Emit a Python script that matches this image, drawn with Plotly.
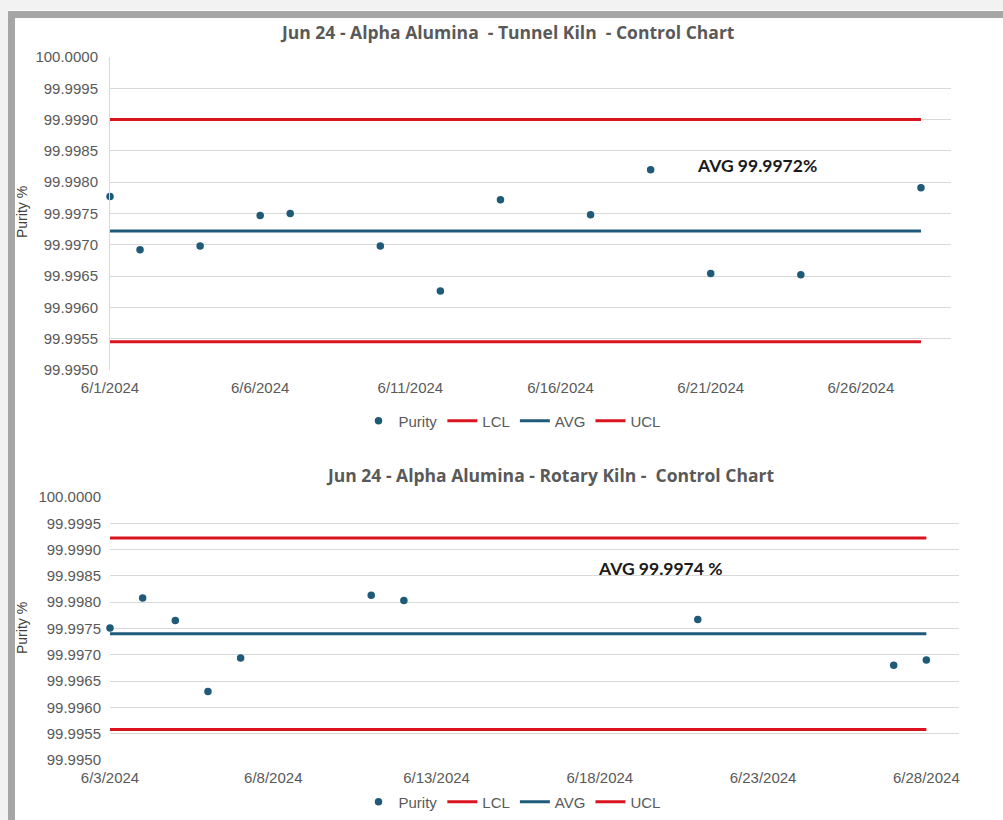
import plotly.graph_objects as go

# ---------------- data ----------------
tunnel_dates = ["2024-06-01", "2024-06-02", "2024-06-04", "2024-06-06", "2024-06-07",
                "2024-06-10", "2024-06-12", "2024-06-14", "2024-06-17", "2024-06-19",
                "2024-06-21", "2024-06-24", "2024-06-28"]
tunnel_purity = [99.99777, 99.99692, 99.99698, 99.99747, 99.99750,
                 99.99698, 99.99626, 99.99772, 99.99748, 99.99820,
                 99.99654, 99.99652, 99.99791]
tunnel_span = ["2024-06-01", "2024-06-28"]
tunnel_lcl = [99.99545, 99.99545]
tunnel_avg = [99.99722, 99.99722]
tunnel_ucl = [99.99900, 99.99900]

rotary_dates = ["2024-06-03", "2024-06-04", "2024-06-05", "2024-06-06", "2024-06-07",
                "2024-06-11", "2024-06-12", "2024-06-21", "2024-06-27", "2024-06-28"]
rotary_purity = [99.99751, 99.99808, 99.99765, 99.99630, 99.99694,
                 99.99813, 99.99803, 99.99767, 99.99680, 99.99690]
rotary_span = ["2024-06-03", "2024-06-28"]
rotary_lcl = [99.99558, 99.99558]
rotary_avg = [99.99740, 99.99740]
rotary_ucl = [99.99922, 99.99922]

tunnel_ticks = ["2024-06-01", "2024-06-06", "2024-06-11", "2024-06-16", "2024-06-21", "2024-06-26"]
tunnel_ticktext = ["6/1/2024", "6/6/2024", "6/11/2024", "6/16/2024", "6/21/2024", "6/26/2024"]
rotary_ticks = ["2024-06-03", "2024-06-08", "2024-06-13", "2024-06-18", "2024-06-23", "2024-06-28"]
rotary_ticktext = ["6/3/2024", "6/8/2024", "6/13/2024", "6/18/2024", "6/23/2024", "6/28/2024"]

series_names = ["Purity", "LCL", "AVG", "UCL"]
titles = ["Jun 24 - Alpha Alumina \u00a0- Tunnel Kiln \u00a0- Control Chart",
          "Jun 24 - Alpha Alumina - Rotary Kiln - \u00a0Control Chart"]
avg_labels = ["AVG 99.9972%", "AVG 99.9974 %"]

# ---------------- style ----------------
W, H = 1003, 820
BLUE = "#1f5b79"
RED = "#d9141e"
GRAY = "#595959"
GRID = "#d9d9d9"
FONT = "Liberation Sans, Arial, sans-serif"

def px_x(x):
    return x / W

def px_y(y):
    return 1 - y / H

fig = go.Figure()

def add_chart(dates, purity, span, lcl, avg, ucl, xa, ya, leg):
    fig.add_trace(go.Scatter(x=dates, y=purity, mode="markers", name=series_names[0],
                             marker=dict(color=BLUE, size=7.5), cliponaxis=False,
                             xaxis=xa, yaxis=ya, legend=leg))
    fig.add_trace(go.Scatter(x=span, y=lcl, mode="lines", name=series_names[1],
                             line=dict(color=RED, width=3), xaxis=xa, yaxis=ya, legend=leg))
    fig.add_trace(go.Scatter(x=span, y=avg, mode="lines", name=series_names[2],
                             line=dict(color=BLUE, width=3), xaxis=xa, yaxis=ya, legend=leg))
    fig.add_trace(go.Scatter(x=span, y=ucl, mode="lines", name=series_names[3],
                             line=dict(color=RED, width=3), xaxis=xa, yaxis=ya, legend=leg))

add_chart(tunnel_dates, tunnel_purity, tunnel_span, tunnel_lcl, tunnel_avg, tunnel_ucl, "x", "y", "legend")
add_chart(rotary_dates, rotary_purity, rotary_span, rotary_lcl, rotary_avg, rotary_ucl, "x2", "y2", "legend2")

tickfont = dict(family=FONT, size=15, color=GRAY)
yaxis_common = dict(range=[99.995, 100.0], dtick=0.0005, tick0=99.995, tickformat=".4f",
                    showgrid=True, gridcolor=GRID, gridwidth=1, zeroline=False,
                    tickfont=tickfont, ticks="", ticklabelstandoff=8, fixedrange=True,
                    automargin=False)
xaxis_common = dict(type="date", showgrid=False, zeroline=False, tickfont=tickfont,
                    ticks="", ticklabelstandoff=7, showline=False, automargin=False)

legend_common = dict(orientation="h", xanchor="center", yanchor="middle",
                     font=dict(family=FONT, size=15, color=GRAY),
                     bgcolor="rgba(0,0,0,0)", itemwidth=30, tracegroupgap=0)

fig.update_layout(
    width=W, height=H, autosize=False,
    margin=dict(l=0, r=0, t=0, b=0, pad=0, autoexpand=False),
    paper_bgcolor="white", plot_bgcolor="white",
    font=dict(family=FONT, color=GRAY),
    xaxis=dict(xaxis_common, domain=[px_x(110), px_x(951)], anchor="y",
               range=["2024-06-01", "2024-06-29"], tickvals=tunnel_ticks, ticktext=tunnel_ticktext),
    yaxis=dict(yaxis_common, domain=[px_y(370), px_y(57)], anchor="x",
               showline=True, linecolor=GRID, linewidth=1),
    xaxis2=dict(xaxis_common, domain=[px_x(110), px_x(959)], anchor="y2",
                range=["2024-06-03", "2024-06-29"], tickvals=rotary_ticks, ticktext=rotary_ticktext),
    yaxis2=dict(yaxis_common, domain=[px_y(760), px_y(497)], anchor="x2", showline=False),
    legend=dict(legend_common, x=px_x(512), y=px_y(421)),
    legend2=dict(legend_common, x=px_x(512), y=px_y(802)),
    showlegend=True,
)

annotations = [
    dict(text="<b>" + titles[0] + "</b>", x=px_x(507), y=px_y(32)),
    dict(text="<b>" + titles[1] + "</b>", x=px_x(550), y=px_y(475)),
]
for a in annotations:
    a.update(xref="paper", yref="paper", xanchor="center", yanchor="middle", showarrow=False,
             font=dict(family="Open Sans, " + FONT, size=17.5, color=GRAY))
ann_avg = [
    dict(text="<b>" + avg_labels[0] + "</b>", x=px_x(757), y=px_y(166)),
    dict(text="<b>" + avg_labels[1] + "</b>", x=px_x(660), y=px_y(568)),
]
for a in ann_avg:
    a.update(xref="paper", yref="paper", xanchor="center", yanchor="middle", showarrow=False,
             font=dict(family="Lato, " + FONT, size=17.5, color="#1a1a1a"))
ann_ytitle = [
    dict(text="Purity %", x=px_x(22), y=px_y(212)),
    dict(text="Purity %", x=px_x(22), y=px_y(628)),
]
for a in ann_ytitle:
    a.update(xref="paper", yref="paper", xanchor="center", yanchor="middle", showarrow=False,
             textangle=-90, font=dict(family=FONT, size=14, color="#404040"))
fig.update_layout(annotations=annotations + ann_avg + ann_ytitle)

# screenshot frame (shadow bands)
shapes = [
    dict(type="rect", x0=0, x1=1, y0=px_y(10), y1=1, fillcolor="#f2f2f2", line_width=0),
    dict(type="rect", x0=0, x1=px_x(8), y0=0, y1=1, fillcolor="#f2f2f2", line_width=0),
    dict(type="rect", x0=px_x(8), x1=1, y0=px_y(18), y1=px_y(11), fillcolor="#a6a6a6", line_width=0),
    dict(type="rect", x0=px_x(8), x1=px_x(15), y0=0, y1=px_y(11), fillcolor="#a6a6a6", line_width=0),
]
for s in shapes:
    s.update(xref="paper", yref="paper", layer="below")
fig.update_layout(shapes=shapes)

fig.write_html("out.html", config={"displayModeBar": False},
               post_script="document.body.style.margin='0';")
